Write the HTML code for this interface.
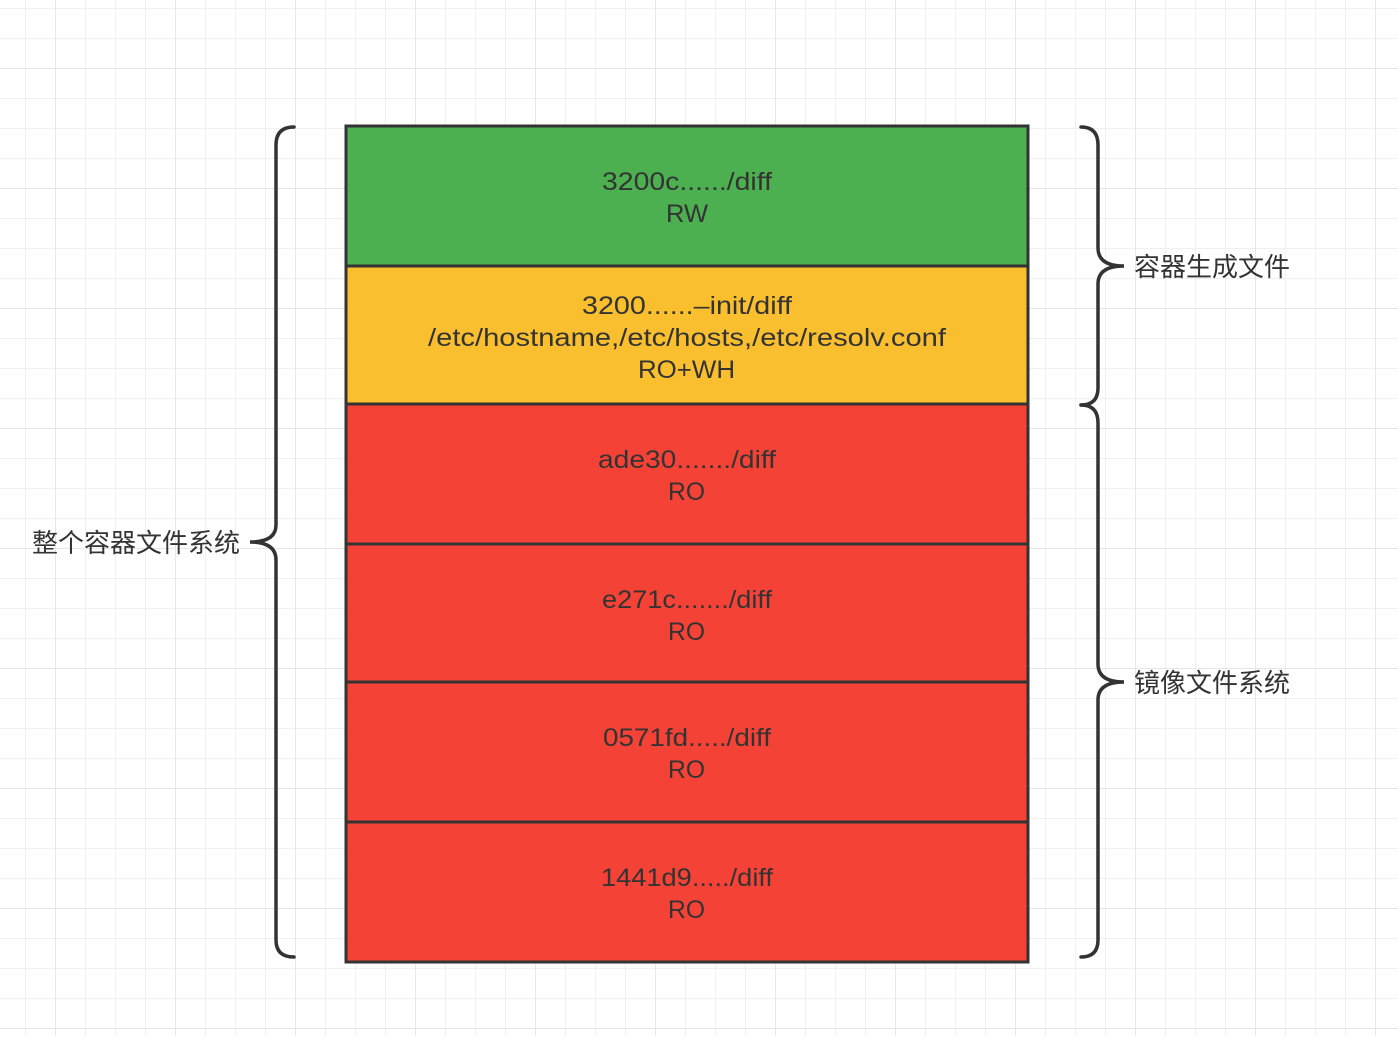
<!DOCTYPE html>
<html><head><meta charset="utf-8"><style>
html,body{margin:0;padding:0;background:#fff;}
svg text{font-family:"Liberation Sans","Noto Sans CJK SC",sans-serif;fill:#333;}
</style></head><body>
<svg width="1398" height="1036" xmlns="http://www.w3.org/2000/svg">
<defs>
<pattern id="minor" width="30" height="30" patternUnits="userSpaceOnUse" x="25" y="8">
<path d="M0 0H30M0 0V30" stroke="#f0f0f0" stroke-width="2" fill="none"/>
</pattern>
<pattern id="major" width="120" height="120" patternUnits="userSpaceOnUse" x="55" y="68">
<path d="M0 0H120M0 0V120" stroke="#e6e6e6" stroke-width="2" fill="none"/>
</pattern>
</defs>
<rect width="1398" height="1036" fill="#fff"/>
<rect width="1398" height="1036" fill="url(#minor)"/>
<rect width="1398" height="1036" fill="url(#major)"/>

<g stroke="#333" stroke-width="3">
<rect x="346" y="126" width="682" height="140" fill="#4caf50"/>
<rect x="346" y="266" width="682" height="138" fill="#f9bf2e"/>
<rect x="346" y="404" width="682" height="140" fill="#f44336"/>
<rect x="346" y="544" width="682" height="138" fill="#f44336"/>
<rect x="346" y="682" width="682" height="140" fill="#f44336"/>
<rect x="346" y="822" width="682" height="140" fill="#f44336"/>
</g>

<g fill="none" stroke="#333" stroke-width="3.5" stroke-linecap="round">
<path d="M294 127 Q276 127 276 145 V525 Q276 542 250 542 Q276 542 276 560 V940 Q276 957 294 957"/>
<path d="M1081 127 Q1098 127 1098 145 V248 Q1098 266 1124 266 Q1098 266 1098 284 V388 Q1098 405 1081 405"/>
<path d="M1081 405 Q1098 405 1098 423 V664 Q1098 682 1124 682 Q1098 682 1098 700 V940 Q1098 957 1081 957"/>
</g>

<g font-size="25" lengthAdjust="spacingAndGlyphs">
<text x="602" y="190" textLength="170" lengthAdjust="spacingAndGlyphs">3200c....../diff</text>
<text x="666" y="222" textLength="42" lengthAdjust="spacingAndGlyphs">RW</text>
<text x="582" y="314" textLength="210" lengthAdjust="spacingAndGlyphs">3200......–init/diff</text>
<text x="428" y="346" textLength="518" lengthAdjust="spacingAndGlyphs">/etc/hostname,/etc/hosts,/etc/resolv.conf</text>
<text x="638" y="378" textLength="97" lengthAdjust="spacingAndGlyphs">RO+WH</text>
<text x="598" y="468" textLength="178" lengthAdjust="spacingAndGlyphs">ade30......./diff</text>
<text x="668" y="500" textLength="37" lengthAdjust="spacingAndGlyphs">RO</text>
<text x="602" y="608" textLength="170" lengthAdjust="spacingAndGlyphs">e271c......./diff</text>
<text x="668" y="640" textLength="37" lengthAdjust="spacingAndGlyphs">RO</text>
<text x="603" y="746" textLength="168" lengthAdjust="spacingAndGlyphs">0571fd...../diff</text>
<text x="668" y="778" textLength="37" lengthAdjust="spacingAndGlyphs">RO</text>
<text x="601" y="886" textLength="172" lengthAdjust="spacingAndGlyphs">1441d9...../diff</text>
<text x="668" y="918" textLength="37" lengthAdjust="spacingAndGlyphs">RO</text>
</g>
<g font-size="26">
<text x="1134" y="276" textLength="156" lengthAdjust="spacingAndGlyphs">容器生成文件</text>
<text x="1134" y="692" textLength="156" lengthAdjust="spacingAndGlyphs">镜像文件系统</text>
<text x="32" y="552" textLength="208" lengthAdjust="spacingAndGlyphs">整个容器文件系统</text>
</g>
</svg>
</body></html>
